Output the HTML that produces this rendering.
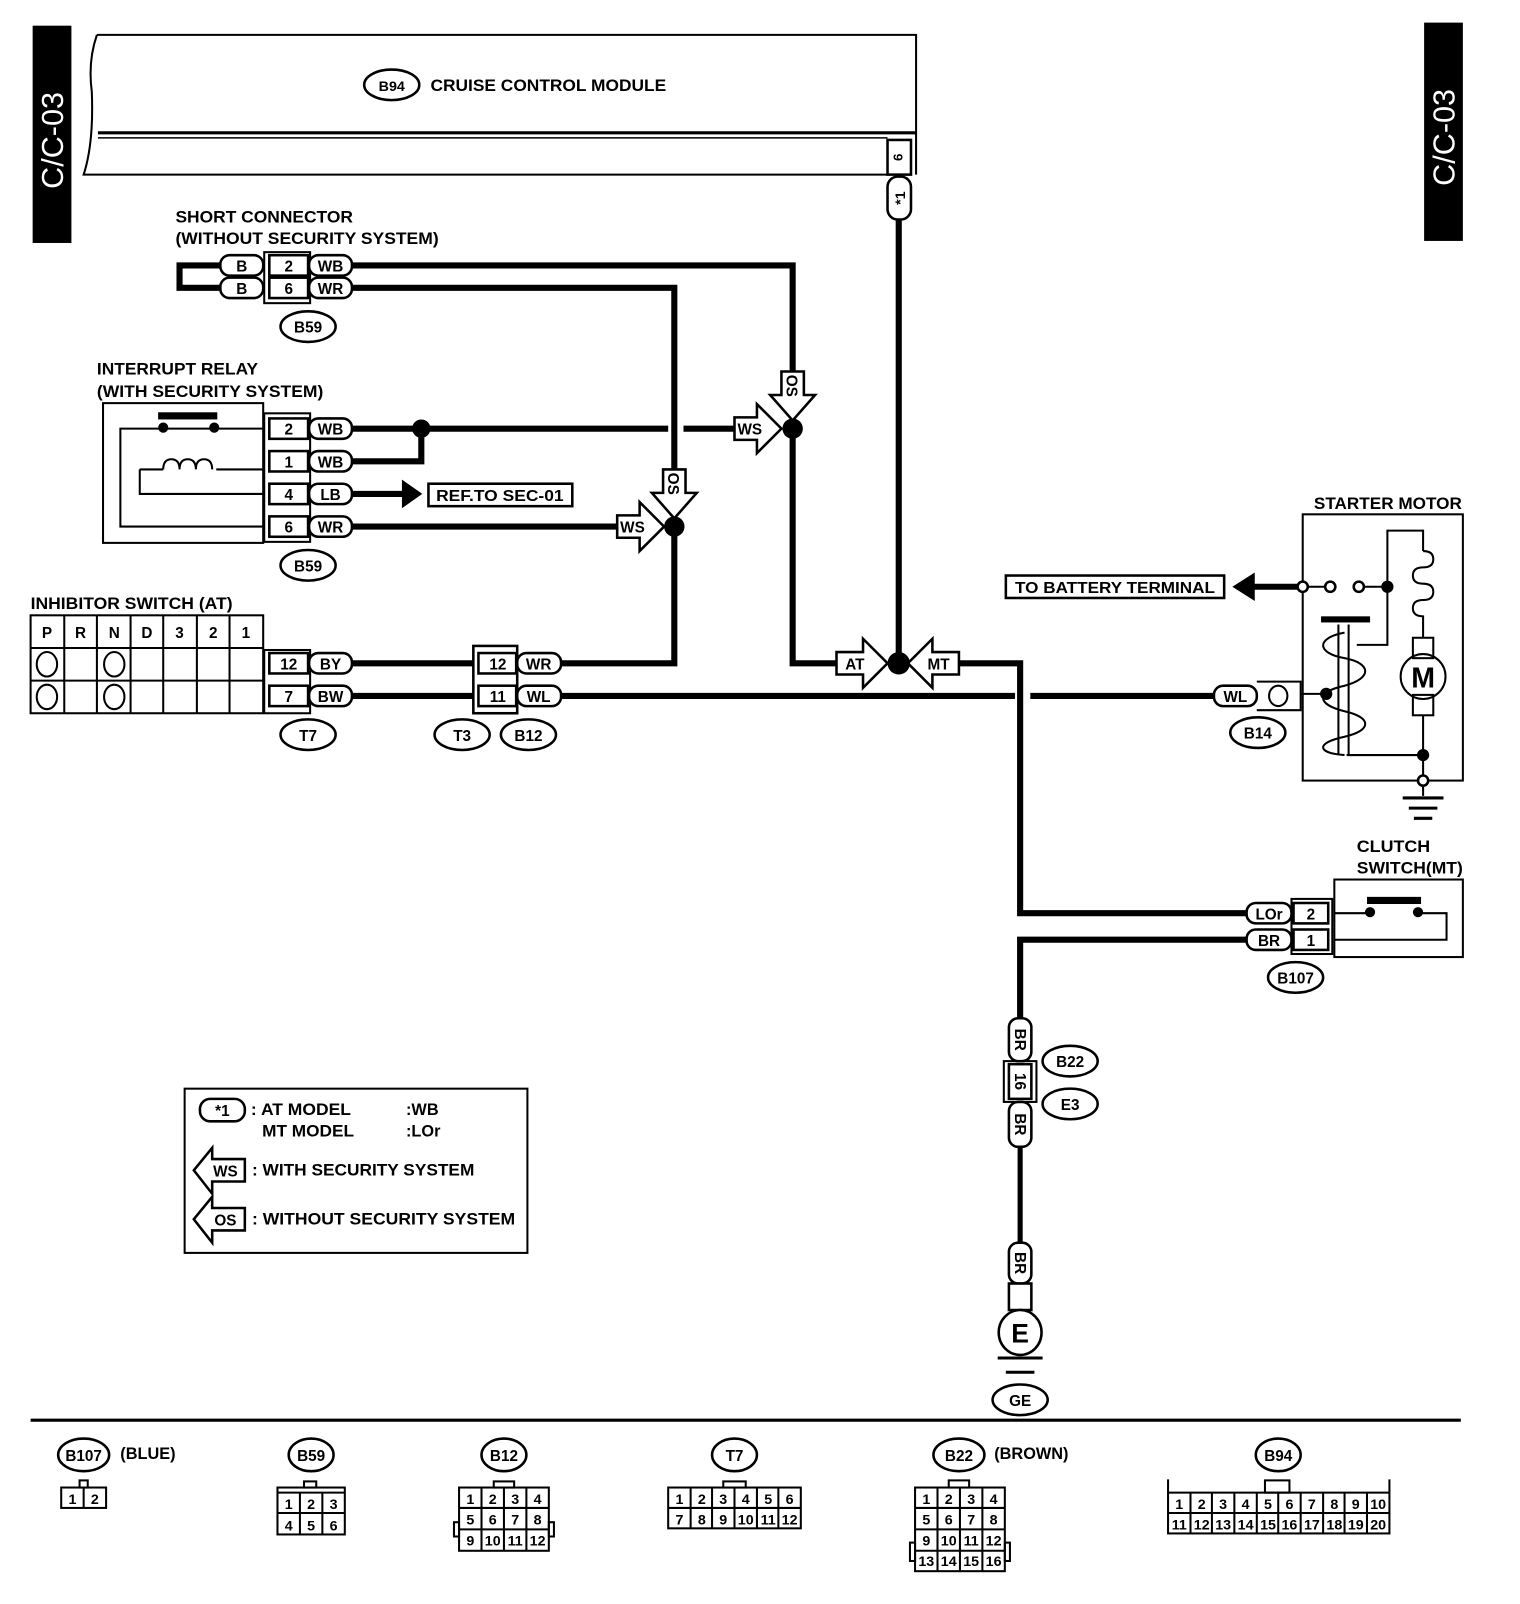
<!DOCTYPE html>
<html><head><meta charset="utf-8"><style>
html,body{margin:0;padding:0;background:#fff;}
svg{display:block}
text{font-family:"Liberation Sans",sans-serif;font-weight:bold;fill:#000}
</style></head><body>
<svg width="1520" height="1604" viewBox="0 0 1490 1572" xmlns="http://www.w3.org/2000/svg">
<defs>
<style>.w{stroke:#000;stroke-width:6;fill:none}.t{stroke:#000;stroke-width:2;fill:none}.p{fill:#fff;stroke:#000;stroke-width:2.5}</style>
</defs>
<!-- tabs -->
<rect x="32" y="25" width="38" height="213" fill="#000"/>
<text x="0" y="0" transform="translate(62,185) rotate(-90)" font-size="30" style="fill:#fff;font-weight:normal">C/C-03</text>
<rect x="1396" y="22" width="38" height="214" fill="#000"/>
<text x="0" y="0" transform="translate(1426,182) rotate(-90)" font-size="30" style="fill:#fff;font-weight:normal">C/C-03</text>

<!-- module -->
<path d="M95,34 L898,34 L898,171" class="t" stroke-width="2.5"/>
<path d="M95,34 Q86,60 90,90 Q92,140 82,171 L870,171" class="t" stroke-width="2.5"/>
<line x1="96" y1="130" x2="898" y2="130" stroke="#000" stroke-width="3"/>
<line x1="96" y1="135" x2="870" y2="135" stroke="#000" stroke-width="1.5"/>
<rect x="870" y="137" width="23" height="34" class="p" stroke-width="2"/>
<text transform="translate(876,154) rotate(90)" font-size="13" text-anchor="middle">9</text>
<rect x="870" y="173" width="23" height="42" rx="10" class="p"/>
<text transform="translate(887,194) rotate(-90)" font-size="14" text-anchor="middle">*1</text>
<ellipse cx="384" cy="83" rx="27" ry="15" class="p"/>
<text x="384" y="89" font-size="14" text-anchor="middle">B94</text>
<text x="422" y="89" font-size="16" textLength="231" lengthAdjust="spacingAndGlyphs">CRUISE CONTROL MODULE</text>

<!-- main vertical wire from module -->
<line x1="881" y1="215" x2="881" y2="650" class="w"/>

<!-- short connector -->
<text x="172" y="218" font-size="16" textLength="174" lengthAdjust="spacingAndGlyphs">SHORT CONNECTOR</text>
<text x="172" y="239" font-size="16" textLength="258" lengthAdjust="spacingAndGlyphs">(WITHOUT SECURITY SYSTEM)</text>
<path d="M216,260 L176,260 L176,282 L216,282" class="w"/>
<rect x="216" y="250" width="42" height="20" rx="9" class="p"/><text x="237" y="266" font-size="15" text-anchor="middle">B</text>
<rect x="216" y="272" width="42" height="20" rx="9" class="p"/><text x="237" y="288" font-size="15" text-anchor="middle">B</text>
<rect x="259" y="247" width="45" height="50" class="t" stroke-width="2.5"/>
<rect x="264" y="250" width="38" height="20" class="p" stroke-width="1.5"/><text x="283" y="266" font-size="15" text-anchor="middle">2</text>
<rect x="264" y="272" width="38" height="20" class="p" stroke-width="1.5"/><text x="283" y="288" font-size="15" text-anchor="middle">6</text>
<path d="M345,260 L777,260 L777,370" class="w"/>
<path d="M345,282 L661,282 L661,465" class="w"/>
<rect x="303" y="250" width="42" height="20" rx="9" class="p"/><text x="324" y="266" font-size="15" text-anchor="middle">WB</text>
<rect x="303" y="272" width="42" height="20" rx="9" class="p"/><text x="324" y="288" font-size="15" text-anchor="middle">WR</text>
<ellipse cx="302" cy="320" rx="27" ry="15" class="p"/><text x="302" y="326" font-size="15" text-anchor="middle">B59</text>

<!-- interrupt relay -->
<text x="95" y="367" font-size="16" textLength="158" lengthAdjust="spacingAndGlyphs">INTERRUPT RELAY</text>
<text x="95" y="389" font-size="16" textLength="222" lengthAdjust="spacingAndGlyphs">(WITH SECURITY SYSTEM)</text>
<rect x="101" y="395" width="157" height="137" class="t" stroke-width="2.5"/>
<path d="M258,420 L118,420 L118,516 L258,516" class="t" stroke-width="2.5"/>
<rect x="155" y="404" width="58" height="7" fill="#000"/>
<circle cx="160" cy="419" r="5" fill="#000"/><circle cx="210" cy="419" r="5" fill="#000"/>
<path d="M258,460 L212,460 M137,460 L160,460 M137,460 L137,484 L258,484" class="t" stroke-width="2.5"/>
<path d="M160,460 q0,-10 8,-10 q8,0 8,10 q0,-10 8,-10 q8,0 8,10 q0,-10 8,-10 q8,0 8,10" class="t" stroke-width="2.5"/>
<rect x="259" y="405" width="45" height="126" class="t" stroke-width="2.5"/>
<g font-size="15" text-anchor="middle">
<rect x="264" y="410" width="38" height="20" class="p" stroke-width="1.5"/><text x="283" y="426">2</text>
<rect x="264" y="442" width="38" height="20" class="p" stroke-width="1.5"/><text x="283" y="458">1</text>
<rect x="264" y="474" width="38" height="20" class="p" stroke-width="1.5"/><text x="283" y="490">4</text>
<rect x="264" y="506" width="38" height="20" class="p" stroke-width="1.5"/><text x="283" y="522">6</text>
</g>
<path d="M345,420 L655,420 M670,420 L720,420" class="w"/>
<path d="M345,452 L413,452 L413,420" class="w"/>
<circle cx="413" cy="420" r="9" fill="#000"/>
<line x1="345" y1="484" x2="396" y2="484" class="w"/>
<polygon points="394,470 414,484 394,498" fill="#000"/>
<rect x="420" y="474" width="141" height="22" class="p" stroke-width="2.5"/>
<text x="490" y="491" font-size="15" text-anchor="middle" textLength="125" lengthAdjust="spacingAndGlyphs">REF.TO SEC-01</text>
<line x1="345" y1="516" x2="605" y2="516" class="w"/>
<g font-size="15" text-anchor="middle">
<rect x="303" y="410" width="42" height="20" rx="9" class="p"/><text x="324" y="426">WB</text>
<rect x="303" y="442" width="42" height="20" rx="9" class="p"/><text x="324" y="458">WB</text>
<rect x="303" y="474" width="42" height="20" rx="9" class="p"/><text x="324" y="490">LB</text>
<rect x="303" y="506" width="42" height="20" rx="9" class="p"/><text x="324" y="522">WR</text>
</g>
<ellipse cx="302" cy="554" rx="27" ry="15" class="p"/><text x="302" y="560" font-size="15" text-anchor="middle">B59</text>

<!-- junction arrows -->
<path d="M777,420 L777,650 L820,650" class="w"/>
<path d="M661,516 L661,650 L550,650" class="w"/>
<polygon points="720,409 742,409 742,396 766,420 742,444 742,431 720,431" class="p"/>
<text x="735" y="426" font-size="15" text-anchor="middle">WS</text>
<polygon points="766,364 788,364 788,387 799,387 777,412 755,387 766,387" class="p"/>
<text transform="translate(771,378) rotate(90)" font-size="15" text-anchor="middle">OS</text>
<circle cx="777" cy="420" r="10" fill="#000"/>
<polygon points="605,505 627,505 627,492 651,516 627,540 627,527 605,527" class="p"/>
<text x="620" y="522" font-size="15" text-anchor="middle">WS</text>
<polygon points="650,460 672,460 672,483 683,483 661,508 639,483 650,483" class="p"/>
<text transform="translate(655,474) rotate(90)" font-size="15" text-anchor="middle">OS</text>
<circle cx="661" cy="516" r="10" fill="#000"/>
<polygon points="820,639 846,639 846,626 870,650 846,674 846,661 820,661" class="p"/>
<text x="838" y="656" font-size="15" text-anchor="middle">AT</text>
<polygon points="940,639 914,639 914,626 890,650 914,674 914,661 940,661" class="p"/>
<text x="920" y="656" font-size="15" text-anchor="middle">MT</text>
<circle cx="881" cy="650" r="11" fill="#000"/>
<path d="M940,650 L1000,650 L1000,895 L1222,895" class="w"/>
<path d="M1222,921 L1000,921 L1000,998" class="w"/>

<!-- inhibitor switch -->
<text x="30" y="597" font-size="16" textLength="198" lengthAdjust="spacingAndGlyphs">INHIBITOR SWITCH (AT)</text>
<g class="t" stroke-width="2">
<rect x="30" y="603" width="228" height="96"/>
<line x1="30" y1="635" x2="258" y2="635"/><line x1="30" y1="667" x2="258" y2="667"/>
<line x1="63" y1="603" x2="63" y2="699"/><line x1="95" y1="603" x2="95" y2="699"/><line x1="128" y1="603" x2="128" y2="699"/>
<line x1="160" y1="603" x2="160" y2="699"/><line x1="193" y1="603" x2="193" y2="699"/><line x1="225" y1="603" x2="225" y2="699"/>
<ellipse cx="46" cy="651" rx="10" ry="12"/><ellipse cx="46" cy="683" rx="10" ry="12"/>
<ellipse cx="112" cy="651" rx="10" ry="12"/><ellipse cx="112" cy="683" rx="10" ry="12"/>
</g>
<g font-size="15" text-anchor="middle">
<text x="46" y="625">P</text><text x="79" y="625">R</text><text x="112" y="625">N</text><text x="144" y="625">D</text><text x="176" y="625">3</text><text x="209" y="625">2</text><text x="241" y="625">1</text>
</g>
<rect x="259" y="637" width="45" height="62" class="t" stroke-width="2.5"/>
<line x1="345" y1="650" x2="464" y2="650" class="w"/>
<line x1="345" y1="682" x2="464" y2="682" class="w"/>
<path d="M550,682 L995,682 M1010,682 L1190,682" class="w"/>
<g font-size="15" text-anchor="middle">
<rect x="264" y="640" width="38" height="20" class="p" stroke-width="1.5"/><text x="283" y="656">12</text>
<rect x="264" y="672" width="38" height="20" class="p" stroke-width="1.5"/><text x="283" y="688">7</text>
<rect x="303" y="640" width="42" height="20" rx="9" class="p"/><text x="324" y="656">BY</text>
<rect x="303" y="672" width="42" height="20" rx="9" class="p"/><text x="324" y="688">BW</text>
<rect x="464" y="633" width="43" height="66" class="p" stroke-width="2.5"/>
<rect x="469" y="640" width="37" height="20" class="p" stroke-width="1.5"/><text x="488" y="656">12</text>
<rect x="469" y="672" width="37" height="20" class="p" stroke-width="1.5"/><text x="488" y="688">11</text>
<rect x="507" y="640" width="43" height="20" rx="9" class="p"/><text x="528" y="656">WR</text>
<rect x="507" y="672" width="43" height="20" rx="9" class="p"/><text x="528" y="688">WL</text>
</g>
<g font-size="15" text-anchor="middle">
<ellipse cx="302" cy="720" rx="27" ry="15" class="p"/><text x="302" y="726">T7</text>
<ellipse cx="453" cy="720" rx="27" ry="15" class="p"/><text x="453" y="726">T3</text>
<ellipse cx="518" cy="720" rx="27" ry="15" class="p"/><text x="518" y="726">B12</text>
</g>

<!-- starter motor -->
<text x="1288" y="499" font-size="16" textLength="145" lengthAdjust="spacingAndGlyphs">STARTER MOTOR</text>
<rect x="1277" y="504" width="157" height="261" class="t" stroke-width="2.5"/>
<rect x="986" y="564" width="214" height="22" class="p" stroke-width="2.5"/>
<text x="1093" y="581" font-size="15" text-anchor="middle" textLength="196" lengthAdjust="spacingAndGlyphs">TO BATTERY TERMINAL</text>
<polygon points="1208,575 1230,561 1230,589" fill="#000"/>
<line x1="1228" y1="575" x2="1274" y2="575" class="w"/>
<g class="t" stroke-width="2.5">
<line x1="1277" y1="575" x2="1304" y2="575"/><line x1="1332" y1="575" x2="1360" y2="575"/>
<path d="M1360,575 L1360,520 L1395,520 L1395,540"/>
<path d="M1395,540 q10,0 10,8 q0,8 -10,8 q-10,0 -10,8 q0,8 10,8 M1395,572 q10,0 10,8 q0,8 -10,8 q-10,0 -10,8 q0,8 10,8 L1395,625" />
<path d="M1360,575 L1360,632 L1330,632"/>
<rect x="1385" y="625" width="20" height="20"/><rect x="1385" y="681" width="20" height="20"/>
<circle cx="1395" cy="663" r="22"/>
<path d="M1395,701 L1395,765 M1395,740 L1320,740"/>
<line x1="1395" y1="771" x2="1395" y2="780"/>
<path d="M1295,607 L1343,607 M1312,612 L1312,740 M1322,612 L1322,740"/>
<path d="M1318,620 C1290,625 1290,640 1318,645 C1345,650 1345,665 1318,672 C1290,678 1290,690 1318,697 C1345,703 1345,716 1318,722 C1290,728 1290,738 1318,740"/>
<path d="M1275,680 L1300,680"/>
</g>
<rect x="1295" y="604" width="48" height="6" fill="#000"/>
<circle cx="1277" cy="575" r="5" class="p" stroke-width="2"/>
<circle cx="1304" cy="575" r="5" class="p" stroke-width="2"/>
<circle cx="1332" cy="575" r="5" class="p" stroke-width="2"/>
<circle cx="1360" cy="575" r="6" fill="#000"/>
<circle cx="1300" cy="680" r="6" fill="#000"/>
<circle cx="1395" cy="740" r="6" fill="#000"/>
<circle cx="1395" cy="765" r="5" class="p" stroke-width="2"/>
<text x="1395" y="674" font-size="28" text-anchor="middle">M</text>
<g stroke="#000" stroke-width="3"><line x1="1375" y1="782" x2="1415" y2="782"/><line x1="1381" y1="792" x2="1409" y2="792"/><line x1="1386" y1="802" x2="1404" y2="802"/></g>
<rect x="1190" y="672" width="42" height="20" rx="9" class="p"/><text x="1211" y="688" font-size="15" text-anchor="middle">WL</text>
<path d="M1232,668 L1275,668 L1275,696 L1232,696" class="t" stroke-width="2.5"/>
<ellipse cx="1253" cy="682" rx="9" ry="10" class="t" stroke-width="2.5"/>
<ellipse cx="1233" cy="718" rx="27" ry="15" class="p"/><text x="1233" y="724" font-size="15" text-anchor="middle">B14</text>

<!-- clutch switch -->
<text x="1330" y="835" font-size="16" textLength="72" lengthAdjust="spacingAndGlyphs">CLUTCH</text>
<text x="1330" y="856" font-size="16" textLength="104" lengthAdjust="spacingAndGlyphs">SWITCH(MT)</text>
<rect x="1308" y="862" width="126" height="76" class="t" stroke-width="2.5"/>
<rect x="1340" y="879" width="53" height="7" fill="#000"/>
<circle cx="1343" cy="894" r="5" fill="#000"/><circle cx="1390" cy="894" r="5" fill="#000"/>
<path d="M1308,895 L1340,895 M1393,895 L1418,895 L1418,921 L1308,921" class="t" stroke-width="2.5"/>
<rect x="1266" y="881" width="40" height="54" class="t" stroke-width="2.5"/>
<g font-size="15" text-anchor="middle">
<rect x="1268" y="885" width="34" height="20" class="p" stroke-width="1.5"/><text x="1285" y="901">2</text>
<rect x="1268" y="911" width="34" height="20" class="p" stroke-width="1.5"/><text x="1285" y="927">1</text>
<rect x="1222" y="885" width="44" height="20" rx="9" class="p"/><text x="1244" y="901">LOr</text>
<rect x="1222" y="911" width="44" height="20" rx="9" class="p"/><text x="1244" y="927">BR</text>
<ellipse cx="1270" cy="958" rx="27" ry="15" class="p"/><text x="1270" y="964">B107</text>
</g>

<!-- ground vertical -->
<line x1="1000" y1="1124" x2="1000" y2="1218" stroke="#000" stroke-width="5"/>
<line x1="1000" y1="1284" x2="1000" y2="1290" class="t"/>
<g font-size="15" text-anchor="middle">
<rect x="989" y="998" width="22" height="42" rx="9" class="p"/><text transform="translate(995,1019) rotate(90)">BR</text>
<rect x="984" y="1040" width="32" height="40" class="t" stroke-width="2.5"/>
<rect x="989" y="1043" width="22" height="34" class="p" stroke-width="1.5"/><text transform="translate(995,1060) rotate(90)">16</text>
<rect x="989" y="1080" width="22" height="44" rx="9" class="p"/><text transform="translate(995,1102) rotate(90)">BR</text>
<rect x="989" y="1218" width="22" height="40" rx="9" class="p"/><text transform="translate(995,1238) rotate(90)">BR</text>
<rect x="989" y="1258" width="22" height="26" class="p"/>
<ellipse cx="1000" cy="1306" rx="21" ry="22" class="p" stroke-width="3"/>
<text x="1000" y="1316" font-size="26">E</text>
<ellipse cx="1049" cy="1040" rx="27" ry="15" class="p"/><text x="1049" y="1046">B22</text>
<ellipse cx="1049" cy="1082" rx="27" ry="15" class="p"/><text x="1049" y="1088">E3</text>
<ellipse cx="1000" cy="1372" rx="27" ry="15" class="p"/><text x="1000" y="1378">GE</text>
</g>
<g stroke="#000" stroke-width="3"><line x1="978" y1="1331" x2="1022" y2="1331"/><line x1="986" y1="1345" x2="1014" y2="1345"/></g>

<!-- legend -->
<rect x="181" y="1067" width="336" height="161" class="t" stroke-width="2.5"/>
<rect x="196" y="1077" width="44" height="22" rx="10" class="p"/>
<text x="218" y="1094" font-size="15" text-anchor="middle">*1</text>
<text x="246" y="1093" font-size="16" textLength="98" lengthAdjust="spacingAndGlyphs">: AT MODEL</text><text x="398" y="1093" font-size="16">:WB</text>
<text x="257" y="1114" font-size="16" textLength="90" lengthAdjust="spacingAndGlyphs">MT MODEL</text><text x="398" y="1114" font-size="16">:LOr</text>
<polygon points="190,1147 208,1125 208,1136 240,1136 240,1158 208,1158 208,1170" class="p"/>
<text x="221" y="1153" font-size="15" text-anchor="middle">WS</text>
<text x="247" y="1152" font-size="16" textLength="218" lengthAdjust="spacingAndGlyphs">: WITH SECURITY SYSTEM</text>
<polygon points="190,1195 208,1173 208,1184 240,1184 240,1206 208,1206 208,1218" class="p"/>
<text x="221" y="1201" font-size="15" text-anchor="middle">OS</text>
<text x="247" y="1200" font-size="16" textLength="258" lengthAdjust="spacingAndGlyphs">: WITHOUT  SECURITY SYSTEM</text>

<!-- bottom rule -->
<line x1="30" y1="1392" x2="1432" y2="1392" stroke="#000" stroke-width="3"/>

<!-- bottom connectors -->
<g font-size="15" text-anchor="middle">
<ellipse cx="82" cy="1426" rx="25" ry="16" class="p"/><text x="82" y="1432">B107</text>
<text x="145" y="1430" font-size="16">(BLUE)</text>
<ellipse cx="305" cy="1426" rx="22" ry="16" class="p"/><text x="305" y="1432">B59</text>
<ellipse cx="494" cy="1426" rx="22" ry="16" class="p"/><text x="494" y="1432">B12</text>
<ellipse cx="720" cy="1426" rx="22" ry="16" class="p"/><text x="720" y="1432">T7</text>
<ellipse cx="940" cy="1426" rx="25" ry="16" class="p"/><text x="940" y="1432">B22</text>
<text x="1011" y="1430" font-size="16">(BROWN)</text>
<ellipse cx="1253" cy="1426" rx="22" ry="16" class="p"/><text x="1253" y="1432">B94</text>
</g>
<g class="t" stroke-width="1.5">
<rect x="78" y="1451" width="8" height="7"/>
<rect x="60" y="1458" width="44" height="20"/><line x1="82" y1="1458" x2="82" y2="1478"/>
<rect x="298" y="1452" width="12" height="6"/>
<rect x="272" y="1458" width="66" height="46"/><line x1="272" y1="1463" x2="338" y2="1463"/><line x1="272" y1="1483" x2="338" y2="1483"/>
<line x1="294" y1="1463" x2="294" y2="1504"/><line x1="316" y1="1463" x2="316" y2="1504"/>
<rect x="484" y="1452" width="20" height="6"/>
<rect x="450" y="1458" width="88" height="62"/><line x1="450" y1="1478" x2="538" y2="1478"/><line x1="450" y1="1499" x2="538" y2="1499"/>
<line x1="472" y1="1458" x2="472" y2="1520"/><line x1="494" y1="1458" x2="494" y2="1520"/><line x1="516" y1="1458" x2="516" y2="1520"/>
<rect x="445" y="1492" width="5" height="14"/><rect x="538" y="1492" width="5" height="14"/>
<rect x="709" y="1452" width="22" height="6"/>
<rect x="655" y="1458" width="130" height="40"/><line x1="655" y1="1478" x2="785" y2="1478"/>
<line x1="677" y1="1458" x2="677" y2="1498"/><line x1="698" y1="1458" x2="698" y2="1498"/><line x1="720" y1="1458" x2="720" y2="1498"/><line x1="742" y1="1458" x2="742" y2="1498"/><line x1="763" y1="1458" x2="763" y2="1498"/>
<rect x="930" y="1451" width="20" height="7"/>
<rect x="897" y="1458" width="88" height="82"/><line x1="897" y1="1478" x2="985" y2="1478"/><line x1="897" y1="1499" x2="985" y2="1499"/><line x1="897" y1="1520" x2="985" y2="1520"/>
<line x1="919" y1="1458" x2="919" y2="1540"/><line x1="941" y1="1458" x2="941" y2="1540"/><line x1="963" y1="1458" x2="963" y2="1540"/>
<rect x="892" y="1512" width="5" height="18"/><rect x="985" y="1512" width="5" height="18"/>
<rect x="1240" y="1451" width="24" height="12"/>
<rect x="1145" y="1463" width="217" height="40"/><line x1="1145" y1="1483" x2="1362" y2="1483"/>
<line x1="1145" y1="1450" x2="1145" y2="1463"/><line x1="1362" y1="1450" x2="1362" y2="1463"/>
<line x1="1167" y1="1463" x2="1167" y2="1503"/><line x1="1188" y1="1463" x2="1188" y2="1503"/><line x1="1210" y1="1463" x2="1210" y2="1503"/><line x1="1232" y1="1463" x2="1232" y2="1503"/><line x1="1253" y1="1463" x2="1253" y2="1503"/><line x1="1275" y1="1463" x2="1275" y2="1503"/><line x1="1297" y1="1463" x2="1297" y2="1503"/><line x1="1318" y1="1463" x2="1318" y2="1503"/><line x1="1340" y1="1463" x2="1340" y2="1503"/>
</g>
<g font-size="14" text-anchor="middle" style="font-weight:normal">
<text x="71" y="1474">1</text><text x="93" y="1474">2</text>
<text x="283" y="1479">1</text><text x="305" y="1479">2</text><text x="327" y="1479">3</text>
<text x="283" y="1500">4</text><text x="305" y="1500">5</text><text x="327" y="1500">6</text>
<text x="461" y="1474">1</text><text x="483" y="1474">2</text><text x="505" y="1474">3</text><text x="527" y="1474">4</text>
<text x="461" y="1494">5</text><text x="483" y="1494">6</text><text x="505" y="1494">7</text><text x="527" y="1494">8</text>
<text x="461" y="1515">9</text><text x="483" y="1515">10</text><text x="505" y="1515">11</text><text x="527" y="1515">12</text>
<text x="666" y="1474">1</text><text x="688" y="1474">2</text><text x="709" y="1474">3</text><text x="731" y="1474">4</text><text x="753" y="1474">5</text><text x="774" y="1474">6</text>
<text x="666" y="1494">7</text><text x="688" y="1494">8</text><text x="709" y="1494">9</text><text x="731" y="1494">10</text><text x="753" y="1494">11</text><text x="774" y="1494">12</text>
<text x="908" y="1474">1</text><text x="930" y="1474">2</text><text x="952" y="1474">3</text><text x="974" y="1474">4</text>
<text x="908" y="1494">5</text><text x="930" y="1494">6</text><text x="952" y="1494">7</text><text x="974" y="1494">8</text>
<text x="908" y="1515">9</text><text x="930" y="1515">10</text><text x="952" y="1515">11</text><text x="974" y="1515">12</text>
<text x="908" y="1535">13</text><text x="930" y="1535">14</text><text x="952" y="1535">15</text><text x="974" y="1535">16</text>
<text x="1156" y="1479">1</text><text x="1178" y="1479">2</text><text x="1199" y="1479">3</text><text x="1221" y="1479">4</text><text x="1243" y="1479">5</text><text x="1264" y="1479">6</text><text x="1286" y="1479">7</text><text x="1308" y="1479">8</text><text x="1329" y="1479">9</text><text x="1351" y="1479">10</text>
<text x="1156" y="1499">11</text><text x="1178" y="1499">12</text><text x="1199" y="1499">13</text><text x="1221" y="1499">14</text><text x="1243" y="1499">15</text><text x="1264" y="1499">16</text><text x="1286" y="1499">17</text><text x="1308" y="1499">18</text><text x="1329" y="1499">19</text><text x="1351" y="1499">20</text>
</g>
</svg>
</body></html>
